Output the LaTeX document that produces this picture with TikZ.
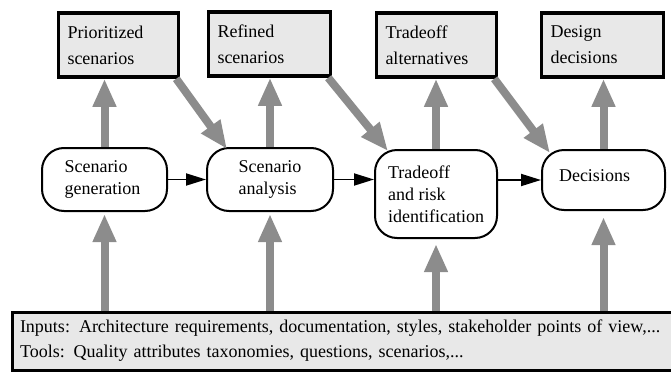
\documentclass[tikz,border=0pt]{standalone}
\usepackage{fontspec}
\setmainfont{Liberation Serif}
\usetikzlibrary{arrows.meta,calc}
\definecolor{boxgray}{HTML}{E8E8E8}
\definecolor{flowgray}{HTML}{8C8C8C}
\begin{document}
\begin{tikzpicture}[x=1pt,y=-1pt,
  outbox/.style={draw=black, line width=3.5pt, fill=boxgray, rectangle,
    align=left, inner xsep=9pt, inner ysep=0pt,
    font=\fontsize{18}{26}\selectfont,
    minimum width=#1, minimum height=64pt, text width=#1-18pt},
  basebox/.style={draw=black, line width=3pt, fill=boxgray, rectangle,
    align=left, inner xsep=8pt, inner ysep=0pt,
    font=\fontsize{18}{25}\selectfont,
    minimum width=663pt, minimum height=58pt, text width=647pt},
  proc/.style={draw=black, line width=2pt, rounded corners=22pt, fill=white,
    align=left, font=\fontsize{18}{22}\selectfont, inner sep=0pt},
  flow/.style={draw=flowgray, line width=8pt,
    -{Triangle[width=22pt,length=28pt]}},
  ctrl/.style={draw=black, line width=1.8pt,
    -{Triangle[width=12pt,length=20pt]}}]
\useasboundingbox (0,0) rectangle (671,372);
\clip (0,0) rectangle (671,372);

% work products
\node[outbox=120pt] (b1) at (118.5,45) {Prioritized\\scenarios};
\node[outbox=122pt] (b2) at (269.5,44) {Refined\\scenarios};
\node[outbox=120pt] (b3) at (436.5,45) {Tradeoff\\alternatives};
\node[outbox=122pt] (b4) at (602.5,45) {Design\\decisions};

% activities
\node[proc, minimum width=125pt, minimum height=63pt]
  (o1) at (104.5,179.5) {Scenario\\generation\hspace*{4pt}};
\node[proc, minimum width=126pt, minimum height=63pt]
  (o2) at (270,179.5) {Scenario\\analysis};
\node[proc, minimum width=122pt, minimum height=88pt]
  (o3) at (436,194) {Tradeoff\\and risk\\identification};
\node[proc, minimum width=123pt, minimum height=60pt]
  (o4) at (603.5,180) {\raisebox{8pt}{Decisions}\hspace{18pt}};

% inputs and tools
\node[basebox] (inp) at (343.5,341)
  {Inputs: Architecture requirements, documentation, styles, stakeholder points of view,...\\
   Tools: Quality attributes taxonomies, questions, scenarios,...};

% results flowing up
\draw[flow] (o1.north) -- (b1.south -| o1.north);
\draw[flow] (o2.north) -- (b2.south -| o2.north);
\draw[flow] (o3.north) -- (b3.south -| o3.north);
\draw[flow] (o4.north) -- (b4.south -| o4.north);

% products feeding the next activity
\draw[flow] ($(b1.south east)+(-4,0)$) -- ($(o2.north west)+(21,2)$);
\draw[flow] ($(b2.south east)+(-4,0)$) -- ($(o3.north west)+(14,2)$);
\draw[flow] ($(b3.south east)+(-4,0)$) -- ($(o4.north west)+(9,4)$);

% inputs and tools feeding each activity
\draw[flow, shorten >=2pt] (inp.north -| o1.south) -- (o1.south);
\draw[flow, shorten >=2pt] (inp.north -| o2.south) -- (o2.south);
\draw[flow, shorten >=5pt] (inp.north -| o3.south) -- (o3.south);
\draw[flow, shorten >=6pt] (inp.north -| o4.south) -- (o4.south);

% sequence of activities
\draw[ctrl] (o1.east) -- (o2.west |- o1.east);
\draw[ctrl] (o2.east) -- (o3.west |- o2.east);
\draw[ctrl] (o3.east |- o4.west) -- (o4.west);
\end{tikzpicture}
\end{document}
